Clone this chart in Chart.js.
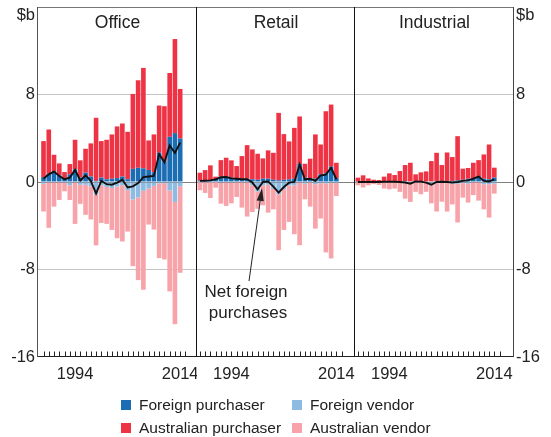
<!DOCTYPE html>
<html><head><meta charset="utf-8">
<script src="https://cdn.jsdelivr.net/npm/chart.js@4"></script>
<style>
html,body{margin:0;padding:0;background:#fff;}
body{width:551px;height:437px;position:relative;overflow:hidden;font-family:"Liberation Sans",Arial,sans-serif;color:#222;}
canvas{position:absolute;top:0;}
#legend{position:absolute;left:0;top:0;width:551px;height:437px;pointer-events:none;}
.li{position:absolute;font-size:15.5px;line-height:18px;white-space:nowrap;}
.sw{position:absolute;width:10px;height:10px;}
</style></head>
<body>
<canvas id="cOffice" width="197" height="390" style="left:0px;width:197px;height:390px"></canvas>
<canvas id="cRetail" width="158" height="390" style="left:197px;width:158px;height:390px"></canvas>
<canvas id="cIndustrial" width="196" height="390" style="left:355px;width:196px;height:390px"></canvas>
<div id="legend"></div>
<script>
// ---------- data ($ billion) ----------
const years = [1988,1989,1990,1991,1992,1993,1994,1995,1996,1997,1998,1999,2000,2001,2002,2003,2004,2005,2006,2007,2008,2009,2010,2011,2012,2013,2014];
const tickYears = [1988,1989,1990,1991,1992,1993,1994,1995,1996,1997,1998,1999,2000,2001,2002,2003,2004,2005,2006,2007,2008,2009,2010,2011,2012,2013,2014,2015];
const labelYears = [1994, 2014];
const yTickValues = [-16, -8, 0, 8];
const unitLabel = '$b';
const panelTitles = ['Office', 'Retail', 'Industrial'];
const seriesNames = ['Foreign purchaser', 'Australian purchaser', 'Foreign vendor', 'Australian vendor'];
const lineName = 'Net foreign purchases';

// Office
const officeForeignPurchaser   = [0.45,0.75,1.0,0.6,0.33,0.7,1.15,0.4,0.85,0.5,0.1,0.4,0.25,0.3,0.36,0.49,0.25,1.2,1.3,1.25,1.1,0.9,2.67,1.9,4.13,4.47,3.98];
const officeAustralianPurchaser= [3.29,4.05,1.49,1.10,0.58,0.94,2.71,1.58,2.19,3.03,5.77,3.34,3.61,4.05,4.72,4.86,4.34,6.85,8.00,9.18,2.70,3.45,4.32,5.03,5.84,8.60,4.53];
const officeForeignVendor      = [-0.15,-0.05,-0.05,-0.05,-0.08,-0.3,-0.05,-0.25,-0.25,-0.4,-1.15,-0.3,-0.45,-0.55,-0.41,-0.29,-0.75,-1.6,-1.4,-0.8,-0.6,-0.35,-0.12,-0.1,-0.78,-1.82,-0.38];
const officeAustralianVendor   = [-2.55,-4.14,-2.2,-1.59,-0.77,-1.34,-3.78,-1.75,-2.75,-3.03,-4.65,-3.44,-3.38,-3.83,-4.73,-5.15,-3.78,-6.09,-7.57,-9.05,-3.29,-4.0,-6.84,-6.98,-9.22,-11.18,-7.92];
const officeNet                = [0.3,0.7,0.95,0.55,0.25,0.4,1.1,0.15,0.6,0.1,-1.05,0.1,-0.2,-0.25,-0.05,0.2,-0.5,-0.4,-0.1,0.45,0.5,0.55,2.55,1.8,3.35,2.65,3.6];

// Retail
const retailForeignPurchaser   = [0.12,0.15,0.18,0.28,0.5,0.5,0.4,0.35,0.3,0.3,0.25,0.2,0.3,0.3,0.2,0.15,0.2,0.25,0.3,1.65,0.4,0.35,0.3,0.7,0.8,1.4,0.35];
const retailAustralianPurchaser= [0.73,0.94,1.34,0.21,1.5,1.72,1.58,1.11,2.07,3.07,2.73,2.38,1.86,2.59,2.47,6.17,4.18,3.46,4.65,4.34,1.27,1.78,4.05,2.73,5.67,5.68,1.41];
const retailForeignVendor      = [-0.02,-0.03,-0.03,-0.03,-0.07,-0.05,-0.07,-0.05,-0.05,-0.05,-0.3,-0.87,-0.3,-0.25,-0.63,-1.12,-0.66,-0.31,-0.3,-0.05,-0.15,-0.05,-0.2,-0.1,-0.13,-0.1,-0.1];
const retailAustralianVendor   = [-0.73,-0.97,-1.43,-0.49,-1.91,-2.14,-1.88,-1.32,-2.29,-3.11,-2.44,-1.58,-1.83,-2.55,-1.87,-5.11,-3.72,-3.34,-4.47,-5.73,-1.43,-2.2,-4.06,-3.24,-6.31,-6.89,-1.18];
const retailNet                = [0.1,0.12,0.15,0.25,0.43,0.45,0.33,0.3,0.25,0.25,-0.05,-0.67,0.0,0.05,-0.43,-0.97,-0.46,-0.06,0.0,1.6,0.25,0.3,0.1,0.6,0.67,1.3,0.25];

// Industrial
const industrialForeignPurchaser   = [0.03,0.03,0.03,0.03,0.03,0.05,0.05,0.05,0.05,0.08,0.05,0.1,0.08,0.05,0.05,0.1,0.1,0.1,0.1,0.15,0.2,0.3,0.35,0.55,0.3,0.25,0.4];
const industrialAustralianPurchaser= [0.37,0.58,0.3,0.18,0.15,0.44,0.74,0.59,0.95,1.47,1.71,0.6,0.8,0.92,1.86,2.57,1.45,2.6,2.18,4.04,1.02,0.98,1.41,1.45,2.22,3.18,0.91];
const industrialForeignVendor      = [-0.03,-0.03,-0.03,-0.03,-0.03,-0.03,-0.03,-0.03,-0.05,-0.13,-0.2,-0.05,-0.05,-0.1,-0.3,-0.1,-0.08,-0.1,-0.15,-0.15,-0.1,-0.15,-0.05,-0.05,-0.2,-0.2,-0.15];
const industrialAustralianVendor   = [-0.27,-0.47,-0.27,-0.17,-0.24,-0.57,-0.64,-0.57,-0.85,-1.39,-1.62,-0.85,-1.07,-0.8,-1.65,-2.6,-1.72,-2.6,-1.9,-3.55,-1.33,-1.73,-1.15,-1.65,-2.3,-3.05,-0.91];
const industrialNet                = [0.0,0.0,0.0,0.0,0.0,0.02,0.02,0.02,0.0,-0.05,-0.15,0.05,0.03,-0.05,-0.25,0.0,0.02,0.0,-0.05,0.0,0.1,0.15,0.3,0.5,0.1,0.05,0.25];

// ---------- styling ----------
const FONT = '"Liberation Sans", Arial, sans-serif';
const COLORS = ['#1b6db4', '#ee3344', '#8dbbe2', '#f7a3a9'];
const INK = '#222';
Chart.defaults.font.family = FONT;
Chart.defaults.color = INK;

const framePlugin = {
  id: 'frame',
  afterDatasetsDraw(chart, args, o) {
    const {ctx, chartArea: a} = chart;
    const L = Math.round(a.left) - 0.5, R = Math.round(a.right) - 0.5;
    const T = Math.round(a.top) + 0.5, B = Math.round(a.bottom) - 0.5;
    ctx.save();
    ctx.lineWidth = 1;
    const xs = chart.scales.x;
    ctx.strokeStyle = INK;
    ctx.beginPath();
    for (const t of xs.ticks) {
      const px = Math.round(xs.getPixelForValue(t.value)) + 0.5;
      ctx.moveTo(px, B); ctx.lineTo(px, B - 5);
    }
    ctx.stroke();
    ctx.strokeStyle = '#777';
    ctx.beginPath(); ctx.moveTo(a.left, T); ctx.lineTo(a.right, T); ctx.stroke();
    ctx.strokeStyle = INK;
    ctx.beginPath(); ctx.moveTo(a.left, B); ctx.lineTo(a.right, B); ctx.stroke();
    if (o.left) {
      ctx.strokeStyle = '#555';
      ctx.beginPath(); ctx.moveTo(L, a.top); ctx.lineTo(L, a.bottom); ctx.stroke();
    }
    ctx.strokeStyle = o.rightColor || INK;
    ctx.beginPath(); ctx.moveTo(R, a.top); ctx.lineTo(R, a.bottom); ctx.stroke();
    ctx.restore();
  }
};

const annotationPlugin = {
  id: 'netNote',
  afterDraw(chart, args, o) {
    if (!o.enabled) return;
    const {ctx} = chart;
    const dx = o.offsetX;
    ctx.save();
    ctx.fillStyle = INK;
    ctx.strokeStyle = INK;
    ctx.font = '17px ' + FONT;
    ctx.textAlign = 'center';
    ctx.textBaseline = 'middle';
    ctx.fillText('Net foreign', 246 - dx, 292);
    ctx.fillText('purchases', 248 - dx, 313.5);
    const x0 = 249 - dx, y0 = 281, x1 = 262 - dx, y1 = 188;
    const ang = Math.atan2(y1 - y0, x1 - x0);
    const hl = 13, hw = 3.6;
    const bx = x1 - hl * Math.cos(ang), by = y1 - hl * Math.sin(ang);
    ctx.lineWidth = 1;
    ctx.beginPath(); ctx.moveTo(x0, y0); ctx.lineTo(bx, by); ctx.stroke();
    ctx.beginPath();
    ctx.moveTo(x1, y1);
    ctx.lineTo(bx + hw * Math.sin(ang), by - hw * Math.cos(ang));
    ctx.lineTo(bx - hw * Math.sin(ang), by + hw * Math.cos(ang));
    ctx.closePath(); ctx.fill();
    ctx.restore();
  }
};

function gridColor(v) {
  if (v === 0) return '#808080';
  if (v === 8 || v === -8) return '#c4c4c4';
  return 'rgba(0,0,0,0)';
}

function makePanel(id, title, fp, ap, fv, av, net, cfg) {
  const yTicks = yTickValues.concat([15.2]);
  const yScale = {
    position: cfg.yPos || 'left',
    min: -16, max: 16, stacked: true,
    afterBuildTicks: s => { s.ticks = yTicks.map(v => ({value: v})); },
    afterFit: s => { s.width = cfg.yWidth; s.paddingTop = 0; s.paddingBottom = 0; },
    ticks: {
      display: cfg.yLabels,
      font: {size: 16.5}, color: INK, padding: cfg.yPad,
      callback: v => (v === 15.2 ? unitLabel : String(v))
    },
    grid: {color: c => gridColor(c.tick.value), drawTicks: false, lineWidth: 1},
    border: {display: false}
  };
  return new Chart(document.getElementById(id), {
    data: {
      labels: years,
      datasets: [
        {type: 'line', label: lineName, data: net, borderColor: '#111', borderWidth: 1.9,
         pointRadius: 0, tension: 0, fill: false, stack: 'net', order: 0},
        {type: 'bar', label: seriesNames[0], data: fp, backgroundColor: COLORS[0], stack: 's', order: 1},
        {type: 'bar', label: seriesNames[1], data: ap, backgroundColor: COLORS[1], stack: 's', order: 1},
        {type: 'bar', label: seriesNames[2], data: fv, backgroundColor: COLORS[2], stack: 's', order: 1},
        {type: 'bar', label: seriesNames[3], data: av, backgroundColor: COLORS[3], stack: 's', order: 1}
      ]
    },
    options: {
      responsive: false, animation: false, devicePixelRatio: 1,
      datasets: {bar: {barPercentage: 0.88, categoryPercentage: 1.0, borderWidth: 0}},
      layout: {padding: {top: 7, left: 0, right: 0, bottom: 0}},
      plugins: {
        legend: {display: false}, tooltip: {enabled: false},
        title: {display: true, text: title, fullSize: false, color: INK,
                font: {size: 17.5, weight: 'normal'}, padding: {top: 6, bottom: -27}},
        frame: {left: cfg.frameLeft, rightColor: cfg.rightColor},
        netNote: {enabled: !!cfg.note, offsetX: cfg.offsetX}
      },
      scales: {
        x: {
          type: 'linear', min: cfg.xMin, max: cfg.xMax, stacked: true, offset: false,
          afterBuildTicks: s => { s.ticks = tickYears.map(v => ({value: v})); },
          afterFit: s => { s.height = 33; s.paddingLeft = 0; s.paddingRight = 0; },
          ticks: {autoSkip: false, maxRotation: 0, minRotation: 0, padding: 8,
                  font: {size: 16.5}, color: INK,
                  callback: v => (labelYears.includes(v) ? String(v) : '')},
          grid: {display: false, drawTicks: false},
          border: {display: false}
        },
        y: yScale
      }
    },
    plugins: [framePlugin, annotationPlugin]
  });
}

makePanel('cOffice', panelTitles[0], officeForeignPurchaser, officeAustralianPurchaser, officeForeignVendor, officeAustralianVendor, officeNet,
  {yPos: 'left', yWidth: 38, yLabels: true, yPad: 3, xMin: 1986.95, xMax: 2017.2, frameLeft: true, rightColor: '#111', offsetX: 0});
makePanel('cRetail', panelTitles[1], retailForeignPurchaser, retailAustralianPurchaser, retailForeignVendor, retailAustralianVendor, retailNet,
  {yPos: 'left', yWidth: 0, yLabels: false, yPad: 0, xMin: 1987.45, xMax: 2017.55, frameLeft: false, rightColor: '#111', note: true, offsetX: 197});
makePanel('cIndustrial', panelTitles[2], industrialForeignPurchaser, industrialAustralianPurchaser, industrialForeignVendor, industrialAustralianVendor, industrialNet,
  {yPos: 'right', yWidth: 37, yLabels: true, yPad: 2, xMin: 1987.45, xMax: 2017.75, frameLeft: false, rightColor: '#444', offsetX: 355});

// ---------- legend (HTML) ----------
const legendSpots = [[121, 400], [121, 422.5], [292, 400], [292, 422.5]];
const legendOrder = [0, 1, 2, 3];
const lg = document.getElementById('legend');
legendOrder.forEach((si, k) => {
  const [lx, ly] = legendSpots[k];
  const sw = document.createElement('div');
  sw.className = 'sw';
  sw.style.left = lx + 'px'; sw.style.top = ly + 'px'; sw.style.background = COLORS[si];
  lg.appendChild(sw);
  const tx = document.createElement('div');
  tx.className = 'li';
  tx.style.left = (lx + 18) + 'px'; tx.style.top = (ly - 4) + 'px';
  tx.textContent = seriesNames[si];
  lg.appendChild(tx);
});
</script>
</body></html>
